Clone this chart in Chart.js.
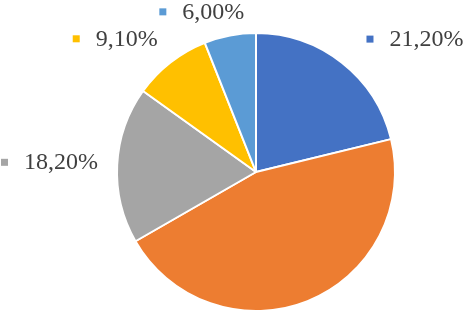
<!DOCTYPE html>
<html>
<head>
<meta charset="utf-8">
<script src="https://cdn.jsdelivr.net/npm/chart.js@4/dist/chart.umd.min.js"></script>
<style>
  html, body { margin: 0; padding: 0; background: #ffffff; }
  #wrap { width: 463px; height: 317px; position: relative; }
  .pre { font-family: "Liberation Serif"; position: absolute; left: -9999px; }
</style>
</head>
<body>
<span class="pre">0123456789,%</span>
<div id="wrap"><canvas id="c" width="463" height="317"></canvas></div>
<script>
// Data
const categories = ["A", "B", "C", "D", "E"];
const shares = [21.2, 45.5, 18.2, 9.1, 6.0];
const labelTexts = ["21,20%", "45,50%", "18,20%", "9,10%", "6,00%"];
const sliceColors = ["#4472C4", "#ED7D31", "#A5A5A5", "#FFC000", "#5B9BD5"];

// Label placement tweaks (style, in px) relative to the outside anchor of each slice
const labelNudges = [[11, -7.3], [0, 0], [2.8, -2.6], [0.8, -7.3], [-24, -3]];

const FONT = '24px "Liberation Serif", "Times New Roman", serif';

const outsideLabels = {
  id: 'outsideLabels',
  afterDraw(chart) {
    const ctx = chart.ctx;
    const meta = chart.getDatasetMeta(0);
    ctx.save();
    ctx.font = FONT;
    ctx.textBaseline = 'alphabetic';
    meta.data.forEach((arc, i) => {
      const p = arc.getProps(['x', 'y', 'startAngle', 'endAngle', 'outerRadius'], true);
      const mid = (p.startAngle + p.endAngle) / 2;
      const r = p.outerRadius + 22;
      const dx = Math.cos(mid), dy = Math.sin(mid);
      const ax = p.x + dx * r, ay = p.y + dy * r;
      const text = labelTexts[i];
      const tw = ctx.measureText(text).width;
      const markerSize = 7, gap = 16;
      const bw = markerSize + gap + tw;
      let left;
      if (Math.abs(dx) < 0.5) left = ax - bw / 2;
      else if (dx < 0) left = ax - bw;
      else left = ax;
      left += labelNudges[i][0];
      const baseline = ay + 8 + labelNudges[i][1];
      // labels that do not fit inside the chart box are not shown
      if (baseline > chart.height || baseline - 18 < 0) return;
      ctx.fillStyle = sliceColors[i];
      ctx.fillRect(left, baseline - 7 - markerSize / 2, markerSize, markerSize);
      ctx.fillStyle = '#404040';
      ctx.textAlign = 'left';
      ctx.fillText(text, left + markerSize + gap, baseline);
    });
    ctx.restore();
  }
};

function draw() {
  new Chart(document.getElementById('c'), {
    type: 'pie',
    data: {
      labels: categories,
      datasets: [{
        data: shares,
        backgroundColor: sliceColors,
        borderColor: '#ffffff',
        borderWidth: 2
      }]
    },
    options: {
      responsive: false,
      animation: false,
      layout: { padding: { left: 116, right: 67, top: 32, bottom: 5 } },
      plugins: {
        legend: { display: false },
        tooltip: { enabled: false },
        title: { display: false }
      }
    },
    plugins: [outsideLabels]
  });
}

if (document.fonts && document.fonts.load) {
  document.fonts.load(FONT, '0123456789,%').then(draw, draw);
} else {
  draw();
}
</script>
</body>
</html>
